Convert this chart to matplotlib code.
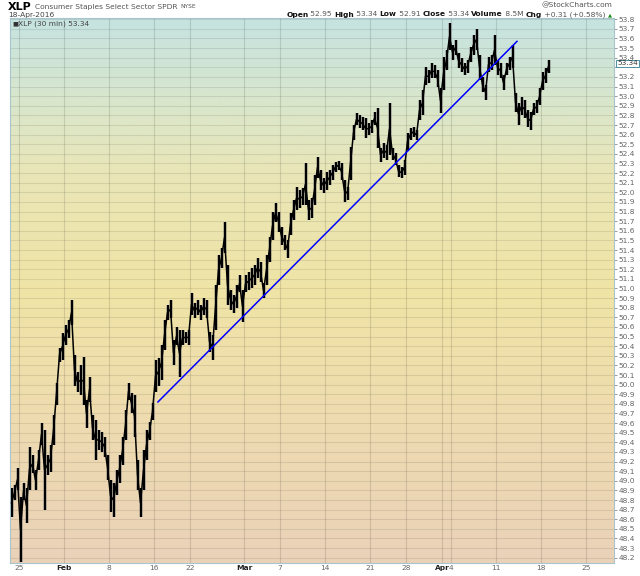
import numpy as np
import matplotlib
matplotlib.use('Agg')
import matplotlib.pyplot as plt
from matplotlib.colors import LinearSegmentedColormap

# 30-min bars grouped three per trading day (Jan 22 .. Apr 18, 2016)
bar_high = [
    48.92, 48.96, 49.13,  # Jan 22
    48.83, 48.98, 48.92,  # Jan 25
    49.35, 49.27, 49.11,
    49.32, 49.60, 49.53,
    49.27, 49.37, 49.68,
    50.02, 50.38, 50.54,
    50.62, 50.67, 50.88,  # Feb 1
    50.31, 50.13, 50.20,
    50.29, 49.84, 50.08,
    49.68, 49.63, 49.53,
    49.51, 49.46, 49.27,
    49.01, 48.98, 49.11,  # Feb 8
    49.27, 49.46, 49.74,
    50.02, 49.91, 49.89,
    49.22, 48.92, 49.32,
    49.53, 49.61, 49.81,
    50.26, 50.28, 50.41,  # Feb 16
    50.67, 50.83, 50.88,
    50.46, 50.60, 50.57,
    50.57, 50.55, 50.57,
    50.95, 50.85, 50.88,  # Feb 22
    50.83, 50.90, 50.88,
    50.55, 50.52, 51.04,
    51.35, 51.42, 51.69,
    51.24, 50.98, 50.93,
    51.04, 51.14, 50.98,  # Feb 29
    51.14, 51.17, 51.21,  # Mar 1
    51.24, 51.32, 51.28,
    51.06, 51.35, 51.54,
    51.80, 51.89, 51.80,
    51.64, 51.56, 51.50,  # Mar 7
    51.78, 51.92, 52.06,
    52.02, 52.04, 52.30,
    51.92, 51.94, 52.18,
    52.37, 52.23, 52.15,
    52.21, 52.23, 52.28,  # Mar 14
    52.32, 52.33, 52.30,
    52.13, 52.06, 52.47,
    52.70, 52.82, 52.80,
    52.78, 52.77, 52.72,
    52.75, 52.84, 52.88,  # Mar 21
    52.46, 52.51, 52.49,
    52.93, 52.46, 52.41,
    52.28, 52.26, 52.34,
    52.62, 52.67, 52.68,  # Mar 28
    52.65, 52.96, 53.06,
    53.30, 53.27, 53.34,
    53.32, 53.27, 53.08,
    53.41, 53.48, 53.76,  # Apr 1
    53.53, 53.58, 53.45,  # Apr 4
    53.40, 53.34, 53.38,
    53.51, 53.64, 53.70,
    53.43, 53.20, 53.12,
    53.41, 53.43, 53.64,
    53.38, 53.34, 53.22,  # Apr 11
    53.34, 53.41, 53.53,
    53.03, 52.93, 52.99,
    52.96, 52.86, 52.84,
    52.93, 52.96, 53.08,
    53.25, 53.29, 53.38,  # Apr 18
]
bar_low = [
    48.62, 48.80, 48.90,
    48.16, 48.80, 48.56,
    48.90, 49.08, 48.90,
    49.11, 49.37, 48.70,
    49.06, 49.09, 49.37,
    49.79, 50.24, 50.26,
    50.41, 50.48, 50.62,
    49.99, 49.92, 49.89,
    49.79, 49.55, 49.82,
    49.42, 49.22, 49.32,
    49.30, 49.25, 49.01,
    48.68, 48.62, 48.85,
    48.98, 49.16, 49.42,
    49.84, 49.70, 49.46,
    48.90, 48.62, 48.90,
    49.22, 49.42, 49.63,
    49.92, 49.99, 50.05,
    50.36, 50.67, 50.69,
    50.20, 50.41, 50.08,
    50.41, 50.43, 50.41,
    50.72, 50.69, 50.72,
    50.67, 50.72, 50.69,
    50.34, 50.26, 50.57,
    51.04, 51.21, 51.37,
    50.83, 50.78, 50.74,
    50.80, 50.96, 50.65,
    50.96, 50.98, 51.00,
    51.04, 51.11, 51.07,
    50.90, 51.04, 51.28,
    51.50, 51.69, 51.59,
    51.45, 51.40, 51.32,
    51.56, 51.71, 51.82,
    51.84, 51.87, 51.87,
    51.71, 51.73, 51.87,
    52.15, 52.02, 51.99,
    52.02, 52.08, 52.13,
    52.21, 52.23, 52.13,
    51.90, 51.92, 52.13,
    52.54, 52.70, 52.67,
    52.65, 52.56, 52.60,
    52.62, 52.70, 52.46,
    52.32, 52.36, 52.34,
    52.39, 52.34, 52.28,
    52.16, 52.15, 52.18,
    52.44, 52.54, 52.58,
    52.54, 52.75, 52.80,
    53.12, 53.14, 53.19,
    53.19, 53.10, 52.82,
    53.06, 53.27, 53.48,
    53.38, 53.43, 53.29,
    53.25, 53.22, 53.24,
    53.36, 53.43, 53.48,
    53.17, 53.04, 52.96,
    53.25, 53.27, 53.32,
    53.22, 53.19, 53.06,
    53.22, 53.27, 53.29,
    52.84, 52.70, 52.80,
    52.77, 52.68, 52.65,
    52.80, 52.82, 52.91,
    53.06, 53.14, 53.24,
]
bars_per_day = 3
first_day = -1  # Jan 22, one trading day before Jan 25

tick_days = [0, 5, 10, 15, 19, 25, 29, 34, 39, 43, 47, 48, 53, 58, 63]
tick_labels = ["25", "Feb", "8", "16", "22", "Mar", "7", "14", "21", "28", "Apr", "4", "11", "18", "25"]
month_labels = ["Feb", "Mar", "Apr"]

trend_days = [15.44, 55.33]
trend_prices = [49.82, 53.57]

last_price = 53.34

fig = plt.figure(figsize=(6.4, 5.76), dpi=100)
ax = fig.add_axes([10/640, 13/576, 604/640, 545/576])

ylo, yhi = 48.145, 53.813
xlo, xhi = -1.0, 66.11

bg = LinearSegmentedColormap.from_list('bg', [
    (0.0, '#ead2b9'), (0.25, '#eedbb0'), (0.5, '#f0e4a6'),
    (0.72, '#e9e6b8'), (0.87, '#d6e6cf'), (1.0, '#c6e3e1')])
grad = np.linspace(0, 1, 256).reshape(-1, 1)
ax.imshow(grad, aspect='auto', cmap=bg, origin='lower',
          extent=[xlo, xhi, ylo, yhi], zorder=0)

yticks = np.round(np.arange(48.2, 53.85, 0.1), 1)
for yv in yticks:
    ax.axhline(yv, color='#000000', alpha=0.09, lw=0.8, zorder=1)
for d in tick_days:
    ax.axvline(d, color='#000000', alpha=0.12, lw=0.8, zorder=1)

n = len(bar_high)
xs = first_day + (np.arange(n) + 0.5) / bars_per_day
mids = (np.array(bar_high) + np.array(bar_low)) / 2
ax.vlines(xs, bar_low, bar_high, color='#7a7a7a', lw=2.6, alpha=0.5, zorder=2)
ax.plot(xs, mids, color='black', lw=1.1, zorder=3)
ax.vlines(xs, bar_low, bar_high, color='black', lw=1.5, zorder=3)

ax.plot(trend_days, trend_prices, color='#0000ff', lw=1.1, zorder=4)

ax.set_xlim(xlo, xhi)
ax.set_ylim(ylo, yhi)

ax.yaxis.tick_right()
ax.set_yticks(yticks)
ax.set_yticklabels(["" if abs(v - 53.3) < 1e-6 else "%.1f" % v for v in yticks])
ax.tick_params(axis='y', length=2.5, width=0.6, color='#888888', labelsize=5.4,
               labelcolor='#666666', pad=1)
ax.set_xticks(tick_days)
ax.set_xticklabels(tick_labels)
ax.tick_params(axis='x', length=0, labelsize=5.4, labelcolor='#666666', pad=1.5)
for lab in ax.get_xticklabels():
    if lab.get_text() in month_labels:
        lab.set_fontweight('bold')
        lab.set_color('#222222')
for sp in ax.spines.values():
    sp.set_color('#a8c4cc')
    sp.set_linewidth(0.8)

ax.text(xhi + 0.35, last_price, "%.2f" % last_price, fontsize=5.2, color='#333333',
        va='center', ha='left', zorder=6,
        bbox=dict(boxstyle='square,pad=0.1', fc='white', ec='#4a90a0', lw=0.7),
        clip_on=False)

renderer = fig.canvas.get_renderer()


def width_of(t):
    return t.get_window_extent(renderer=renderer).width / fig.bbox.width


# header texts
t1 = fig.text(8/640, 1 - 7/576, "XLP", fontsize=8, fontweight='bold', va='center')
x2 = 8/640 + width_of(t1) + 3/640
t2 = fig.text(x2, 1 - 7/576, "Consumer Staples Select Sector SPDR", fontsize=5.4,
              color='#555555', va='center')
fig.text(x2 + width_of(t2) + 3/640, 1 - 7/576, "NYSE", fontsize=4.3, color='#555555',
         va='center')
fig.text(8/640, 1 - 15.5/576, "18-Apr-2016", fontsize=5.4, color='#444444', va='center')
fig.text(612/640, 1 - 5/576, "@StockCharts.com", fontsize=5.4, color='#555555',
         va='center', ha='right')
fig.text(18/640, 1 - 24/576, "XLP (30 min) 53.34", fontsize=5.4, color='#444444',
         va='center')
fig.text(12/640, 1 - 24/576, "\u25a0", fontsize=4.5, color='#333333', va='center')

parts = [("Open", True), (" 52.95 ", False), ("High", True), (" 53.34 ", False),
         ("Low", True), (" 52.91 ", False), ("Close", True), (" 53.34 ", False),
         ("Volume", True), (" 8.5M ", False), ("Chg", True), (" +0.31 (+0.58%) ", False)]
texts = []
for txt, bold in parts:
    t = fig.text(0, 1 - 14.5/576, txt, fontsize=5.4, va='center',
                 fontweight='bold' if bold else 'normal',
                 color='#111111' if bold else '#555555')
    texts.append(t)
tri = fig.text(0, 1 - 14.5/576, "\u25b2", fontsize=3.8, color='#1a8a1a', va='center')
total = sum(width_of(t) for t in texts) + width_of(tri)
xpos = 612/640 - total
for t in texts:
    t.set_x(xpos)
    xpos += width_of(t)
tri.set_x(xpos)

fig.savefig('out.png', dpi=100)
